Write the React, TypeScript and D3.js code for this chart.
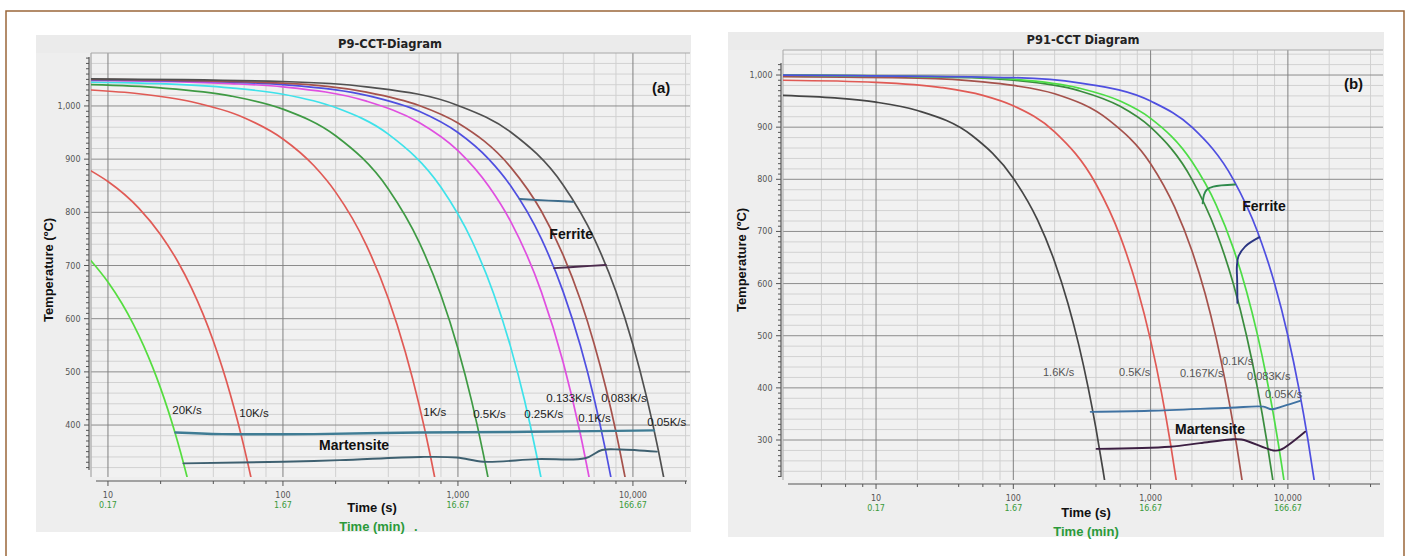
import React from 'react';
import * as d3 from 'd3';

type Pt = [number, number];

// ---------- Panel (a) P9 : cooling curves [time s, temperature °C] ----------
const p9_20: Pt[] = [[8, 709], [10, 669], [12, 629], [14, 589], [16, 549], [18, 509], [20, 469], [22, 429], [24, 389], [26, 349], [28.3, 303]];
const p9_10: Pt[] = [[8, 878], [10, 858], [15, 808], [20, 758], [25, 708], [30, 658], [35, 608], [40, 558], [45, 508], [50, 458], [55, 408], [60, 358], [65.6, 302]];
const p9_1: Pt[] = [[8, 1030], [15, 1023], [30, 1008], [60, 978], [100, 938], [150, 888], [200, 838], [300, 738], [400, 638], [500, 538], [600, 438], [700, 338], [736, 302]];
const p9_05: Pt[] = [[8, 1040], [20, 1034], [50, 1019], [100, 994], [200, 944], [400, 844], [600, 744], [800, 644], [1000, 544], [1200, 444], [1400, 344], [1484, 302]];
const p9_025: Pt[] = [[8, 1045], [20, 1042], [50, 1034], [100, 1022], [200, 997], [400, 947], [800, 847], [1200, 747], [1600, 647], [2000, 547], [2400, 447], [2800, 347], [2988, 300]];
const p9_0133: Pt[] = [[8, 1048], [50, 1042], [100, 1036], [300, 1009], [600, 969], [1000, 916], [1500, 849], [2000, 783], [3000, 650], [4000, 517], [5000, 384], [5630, 300]];
const p9_01: Pt[] = [[8, 1049], [50, 1045], [100, 1040], [300, 1020], [600, 990], [1000, 950], [1500, 900], [2000, 850], [3000, 750], [4000, 650], [5000, 550], [6000, 450], [7000, 350], [7500, 300]];
const p9_0083: Pt[] = [[8, 1050], [100, 1043], [300, 1026], [600, 1001], [1000, 968], [2000, 885], [3000, 802], [4000, 719], [5000, 636], [6000, 553], [7000, 470], [8000, 387], [9040, 300]];
const p9_005: Pt[] = [[8, 1051], [100, 1046], [300, 1036], [1000, 1001], [2000, 951], [4000, 851], [6000, 751], [8000, 651], [10000, 551], [12000, 451], [14000, 351], [15000, 301]];

const p9_ferriteUpper: Pt[] = [[2250, 825], [3300, 822], [4540, 820]];
const p9_ferriteLower: Pt[] = [[3550, 695], [5000, 698], [7000, 701]];
const p9_martUpper: Pt[] = [[24.3, 386], [45, 383], [150, 383], [600, 386], [2000, 387], [6000, 388.5], [13200, 390]];
const p9_martLower: Pt[] = [[27, 328], [100, 331], [212, 334], [610, 340], [986, 339], [1400, 331], [2827, 336], [5333, 337.5], [6650, 353], [8450, 354], [13700, 350]];

const p9RateLabels = ['20K/s', '10K/s', '1K/s', '0.5K/s', '0.25K/s', '0.133K/s', '0.1K/s', '0.083K/s', '0.05K/s'];
const p9RateLabelAt: Pt[] = [[23.3, 420.7], [56.3, 415], [634, 417], [1222, 413], [2393, 413], [3200, 443], [4864, 405.6], [6590, 443], [12080, 398]];

// ---------- Panel (b) P91 ----------
const p91_16: Pt[] = [[2.1, 961], [5, 956], [10, 948], [20, 932], [50, 884], [100, 802], [150, 722], [200, 642], [250, 562], [300, 482], [350, 402], [400, 322], [450, 242], [462, 223]];
const p91_05: Pt[] = [[2.1, 990], [10, 986], [30, 976], [60, 961], [100, 941], [200, 891], [400, 791], [600, 691], [800, 591], [1000, 491], [1200, 391], [1400, 291], [1536, 223]];
const p91_0167: Pt[] = [[2.1, 997], [20, 994], [60, 987], [100, 980], [200, 964], [500, 913], [1000, 830], [1500, 746], [2000, 663], [2500, 580], [3000, 496], [3500, 412], [4000, 329], [4635, 223]];
const p91_01: Pt[] = [[2.1, 1000], [50, 995], [100, 990], [300, 970], [600, 940], [1000, 900], [2000, 800], [3000, 700], [4000, 600], [5000, 500], [6000, 400], [7000, 300], [7770, 223]];
const p91_0083: Pt[] = [[2.1, 1000], [50, 996], [100, 992], [300, 975], [600, 950], [1000, 917], [2000, 834], [3000, 751], [4000, 668], [5000, 585], [6000, 502], [7000, 419], [8000, 336], [9000, 253], [9360, 223]];
const p91_005: Pt[] = [[2.1, 1000], [100, 995], [300, 985], [1000, 950], [2000, 900], [4000, 800], [6000, 700], [8000, 600], [10000, 500], [12000, 400], [14000, 300], [15540, 223]];

const p91_ferriteGreen: Pt[] = [[2394, 754], [2447, 770], [2563, 780], [2864, 786], [4121, 790]];
const p91_ferriteNavy: Pt[] = [[4290, 563], [4270, 607], [4250, 632], [4360, 652], [4880, 671], [6200, 689]];
const p91_martUpper: Pt[] = [[366, 354], [991, 356], [3790, 362], [6630, 364], [7620, 359], [9270, 365], [12270, 375]];
const p91_martLower: Pt[] = [[404, 283], [1384, 287], [2290, 294], [3790, 301], [4600, 301], [7830, 280], [8770, 281], [13340, 316]];

const p91RateLabels = ['1.6K/s', '0.5K/s', '0.167K/s', '0.1K/s', '0.083K/s', '0.05K/s'];
const p91RateLabelAt: Pt[] = [[164.5, 422.7], [589, 422.7], [1637, 420], [3311, 443], [5035, 415], [6810, 381.5]];

// ---------- axis ticks ----------
const xTickSeconds = [10, 100, 1000, 10000];
const xTickSecLabels = ['10', '100', '1,000', '10,000'];
const xTickMinLabels = ['0.17', '1.67', '16.67', '166.67'];
const p9YTicks = [400, 500, 600, 700, 800, 900, 1000];
const p91YTicks = [300, 400, 500, 600, 700, 800, 900, 1000];

type Series = { pts: Pt[]; color: string; kind: 'cool' | 'extra'; width?: number };
type Lab = { text: string; at: Pt; size: number; bold?: boolean; anchor?: string; fill?: string };

const seriesA: Series[] = [
  { pts: p9_20, color: '#55dd3f', kind: 'cool' },
  { pts: p9_10, color: '#e05a55', kind: 'cool' },
  { pts: p9_1, color: '#e05a55', kind: 'cool' },
  { pts: p9_05, color: '#3f9a44', kind: 'cool' },
  { pts: p9_025, color: '#3ee2ea', kind: 'cool' },
  { pts: p9_0133, color: '#e04fe0', kind: 'cool' },
  { pts: p9_01, color: '#4f4fe0', kind: 'cool' },
  { pts: p9_0083, color: '#a5524c', kind: 'cool' },
  { pts: p9_005, color: '#505050', kind: 'cool' },
  { pts: p9_ferriteUpper, color: '#3e6d8c', kind: 'extra', width: 1.9 },
  { pts: p9_ferriteLower, color: '#4b2a4c', kind: 'extra', width: 1.9 },
  { pts: p9_martUpper, color: '#3f7c94', kind: 'extra', width: 2.4 },
  { pts: p9_martLower, color: '#3e6070', kind: 'extra', width: 1.9 },
];

const seriesB: Series[] = [
  { pts: p91_16, color: '#454545', kind: 'cool' },
  { pts: p91_05, color: '#e05a55', kind: 'cool' },
  { pts: p91_0167, color: '#a5524c', kind: 'cool' },
  { pts: p91_01, color: '#3a8c3e', kind: 'cool' },
  { pts: p91_0083, color: '#4ddd46', kind: 'cool' },
  { pts: p91_005, color: '#4f4fe0', kind: 'cool' },
  { pts: p91_ferriteGreen, color: '#2f8a4c', kind: 'extra', width: 1.9 },
  { pts: p91_ferriteNavy, color: '#2a3582', kind: 'extra', width: 1.9 },
  { pts: p91_martUpper, color: '#3f72a2', kind: 'extra', width: 1.9 },
  { pts: p91_martLower, color: '#3c1f42', kind: 'extra', width: 1.9 },
];

const labelsA: Lab[] = [
  ...p9RateLabels.map((t, i) => ({ text: t, at: p9RateLabelAt[i], size: 11.5, fill: '#222' })),
  { text: 'Ferrite', at: [4436, 750], size: 14, bold: true, anchor: 'middle', fill: '#111' },
  { text: 'Martensite', at: [255, 353], size: 14, bold: true, anchor: 'middle', fill: '#111' },
  { text: '(a)', at: [14500, 1024], size: 15, bold: true, anchor: 'middle', fill: '#111' },
];
const labelsB: Lab[] = [
  ...p91RateLabels.map((t, i) => ({ text: t, at: p91RateLabelAt[i], size: 11, fill: '#555' })),
  { text: 'Ferrite', at: [6700, 739], size: 14, bold: true, anchor: 'middle', fill: '#111' },
  { text: 'Martensite', at: [2710, 311.5], size: 14, bold: true, anchor: 'middle', fill: '#111' },
  { text: '(b)', at: [30060, 973], size: 15, bold: true, anchor: 'middle', fill: '#111' },
];

type Cfg = {
  id: string;
  title: string; titleX: number; titleY: number;
  bg: { x: number; y: number; w: number; h: number };
  plot: { l: number; r: number; t: number; b: number };
  xDomain: [number, number]; yDomain: [number, number];
  xAxisY: number; xAxisX: [number, number];
  yAxisX: number; yAxisY: [number, number];
  yTicks: number[];
  yLabelX: number; yLabelY: number;
  xTitleX: number; xTitleY: number; minTitleY: number; dot?: boolean;
  tickY1: number; tickY2: number;
};

const cfgA: Cfg = {
  id: 'a', title: 'P9-CCT-Diagram', titleX: 390, titleY: 48,
  bg: { x: 36, y: 35, w: 655, h: 497 },
  plot: { l: 91, r: 690, t: 53, b: 477 },
  xDomain: [8, 21190], yDomain: [302.3, 1099.6],
  xAxisY: 481, xAxisX: [96, 687], yAxisX: 89, yAxisY: [57, 470],
  yTicks: p9YTicks, yLabelX: 50, yLabelY: 270,
  xTitleX: 372, xTitleY: 512, minTitleY: 531, dot: true,
  tickY1: 498, tickY2: 508,
};
const cfgB: Cfg = {
  id: 'b', title: 'P91-CCT Diagram', titleX: 1083, titleY: 44,
  bg: { x: 728, y: 32, w: 656, h: 505 },
  plot: { l: 783, r: 1383, t: 50, b: 480 },
  xDomain: [2.1, 49300], yDomain: [223.3, 1048],
  xAxisY: 484, xAxisX: [788, 1380], yAxisX: 781, yAxisY: [63, 477],
  yTicks: p91YTicks, yLabelX: 743, yLabelY: 260,
  xTitleX: 1086, xTitleY: 517, minTitleY: 535.5,
  tickY1: 501, tickY2: 511,
};

const FONT_SMALL = 'DejaVu Sans, Verdana, sans-serif';
const FONT = 'Liberation Sans, Arial, sans-serif';

function Panel({ cfg, series, labels }: { cfg: Cfg; series: Series[]; labels: Lab[] }) {
  const { plot } = cfg;
  const x = d3.scaleLog().domain(cfg.xDomain).range([plot.l, plot.r]);
  const y = d3.scaleLinear().domain(cfg.yDomain).range([plot.b, plot.t]);

  const minorX: number[] = [];
  const majorX: number[] = [];
  for (let d = 1; d <= 100000; d *= 10) {
    majorX.push(d);
    [2, 4, 6, 8].forEach((m) => minorX.push(m * d));
  }
  const inX = (v: number) => v >= cfg.xDomain[0] && v <= cfg.xDomain[1];
  const minorY = d3.range(Math.ceil(cfg.yDomain[0] / 20) * 20, cfg.yDomain[1], 20).filter((v) => v % 100 !== 0);
  const majorY = d3.range(Math.ceil(cfg.yDomain[0] / 100) * 100, cfg.yDomain[1], 100);
  const yTickVals = d3.range(Math.ceil(cfg.yDomain[0] / 10) * 10, cfg.yDomain[1], 10).filter((v) => {
    const py = y(v);
    return py >= cfg.yAxisY[0] && py <= cfg.yAxisY[1];
  });
  const xTickVals = [...minorX, ...majorX].filter((v) => {
    const px = x(v);
    return inX(v) && px >= cfg.xAxisX[0] && px <= cfg.xAxisX[1];
  });

  const coolLine = d3.line<Pt>().x((d) => x(d[0])).y((d) => y(d[1])).curve(d3.curveMonotoneX);
  const extraLine = d3.line<Pt>().x((d) => x(d[0])).y((d) => y(d[1])).curve(d3.curveCatmullRom.alpha(0.5));
  const fmt = d3.format(',');
  const clipId = `clip-${cfg.id}`;

  return (
    <g>
      <defs>
        <clipPath id={clipId}>
          <rect x={plot.l} y={plot.t} width={plot.r - plot.l} height={plot.b - plot.t} />
        </clipPath>
      </defs>
      <rect x={cfg.bg.x} y={cfg.bg.y} width={cfg.bg.w} height={cfg.bg.h} fill="#eeeeee" />
      <rect x={cfg.bg.x} y={cfg.bg.y} width={cfg.bg.w} height={plot.t - cfg.bg.y} fill="#ebebeb" />
      <rect x={plot.l} y={plot.t} width={plot.r - plot.l} height={plot.b - plot.t} fill="#f1f1f1" />
      <text x={cfg.titleX} y={cfg.titleY} textAnchor="middle" fontFamily={FONT_SMALL} fontWeight="bold" fontSize={11.5} fill="#222">
        {cfg.title}
      </text>
      {minorY.map((v) => (
        <line key={'my' + v} x1={plot.l} x2={plot.r} y1={y(v)} y2={y(v)} stroke="#d2d2d2" strokeWidth={1} />
      ))}
      {minorX.filter(inX).map((v) => (
        <line key={'mx' + v} x1={x(v)} x2={x(v)} y1={plot.t} y2={plot.b} stroke="#d0d0d0" strokeWidth={1} />
      ))}
      {majorY.map((v) => (
        <line key={'My' + v} x1={plot.l} x2={plot.r} y1={y(v)} y2={y(v)} stroke="#8c8c8c" strokeWidth={1} />
      ))}
      {majorX.filter(inX).map((v) => (
        <line key={'Mx' + v} x1={x(v)} x2={x(v)} y1={plot.t} y2={plot.b} stroke="#808080" strokeWidth={1} />
      ))}
      <line x1={plot.l} x2={plot.r} y1={plot.t} y2={plot.t} stroke="#a8a8a8" />
      <line x1={plot.l} x2={plot.l} y1={plot.t} y2={plot.b} stroke="#a8a8a8" />
      <g clipPath={`url(#${clipId})`}>
        {series.map((s, i) => (
          <path
            key={i}
            d={(s.kind === 'cool' ? coolLine : extraLine)(s.pts) || ''}
            fill="none"
            stroke={s.color}
            strokeWidth={s.width ?? 1.7}
            strokeLinejoin="round"
            strokeLinecap="round"
          />
        ))}
      </g>
      <line x1={cfg.yAxisX} x2={cfg.yAxisX} y1={cfg.yAxisY[0]} y2={cfg.yAxisY[1]} stroke="#555" strokeWidth={1.2} />
      {yTickVals.map((v) => (
        <line key={'yt' + v} x1={cfg.yAxisX - (v % 100 === 0 ? 5 : 3)} x2={cfg.yAxisX} y1={y(v)} y2={y(v)} stroke="#555" />
      ))}
      {cfg.yTicks.map((v) => (
        <text key={'yl' + v} x={cfg.yAxisX - 8.5} y={y(v) + 3} textAnchor="end" fontFamily={FONT_SMALL} fontSize={8} fill="#555">
          {fmt(v)}
        </text>
      ))}
      <line x1={cfg.xAxisX[0]} x2={cfg.xAxisX[1]} y1={cfg.xAxisY} y2={cfg.xAxisY} stroke="#555" strokeWidth={1.2} />
      {xTickVals.map((v, i) => {
        const major = Math.abs(Math.log10(v) - Math.round(Math.log10(v))) < 1e-9;
        return <line key={'xt' + i} x1={x(v)} x2={x(v)} y1={cfg.xAxisY} y2={cfg.xAxisY + (major ? 5 : 3)} stroke="#555" />;
      })}
      {xTickSeconds.map((v, i) => (
        <g key={'xl' + v}>
          <text x={x(v)} y={cfg.tickY1} textAnchor="middle" fontFamily={FONT_SMALL} fontSize={8} fill="#555">
            {xTickSecLabels[i]}
          </text>
          <text x={x(v)} y={cfg.tickY2} textAnchor="middle" fontFamily={FONT_SMALL} fontSize={8} fill="#3a9a3a">
            {xTickMinLabels[i]}
          </text>
        </g>
      ))}
      <text
        transform={`translate(${cfg.yLabelX},${cfg.yLabelY}) rotate(-90)`}
        textAnchor="middle"
        dominantBaseline="middle"
        fontFamily={FONT}
        fontWeight="bold"
        fontSize={13}
        fill="#111"
      >
        Temperature (ºC)
      </text>
      <text x={cfg.xTitleX} y={cfg.xTitleY} textAnchor="middle" fontFamily={FONT} fontWeight="bold" fontSize={13} fill="#111">
        Time (s)
      </text>
      <text x={cfg.xTitleX} y={cfg.minTitleY} textAnchor="middle" fontFamily={FONT} fontWeight="bold" fontSize={13} fill="#2a9a3a">
        Time (min)
      </text>
      {cfg.dot && (
        <text x={cfg.xTitleX + 42} y={cfg.minTitleY} fontFamily={FONT} fontWeight="bold" fontSize={13} fill="#2a9a3a">
          .
        </text>
      )}
      {labels.map((l, i) => (
        <text
          key={'lab' + i}
          x={x(l.at[0])}
          y={y(l.at[1])}
          textAnchor={l.anchor ?? 'start'}
          fontFamily={FONT}
          fontWeight={l.bold ? 'bold' : 'normal'}
          fontSize={l.size}
          fill={l.fill ?? '#222'}
        >
          {l.text}
        </text>
      ))}
    </g>
  );
}

export default function App() {
  return (
    <svg
      width={1407}
      height={556}
      style={{ position: 'absolute', left: 0, top: 0, background: '#ffffff' }}
    >
      <rect x={0} y={0} width={1407} height={556} fill="#ffffff" />
      <Panel cfg={cfgA} series={seriesA} labels={labelsA} />
      <Panel cfg={cfgB} series={seriesB} labels={labelsB} />
      <path d="M6,560 L6,11 L1404,11 L1404,560" fill="none" stroke="#9a673a" strokeWidth={1.5} />
    </svg>
  );
}
